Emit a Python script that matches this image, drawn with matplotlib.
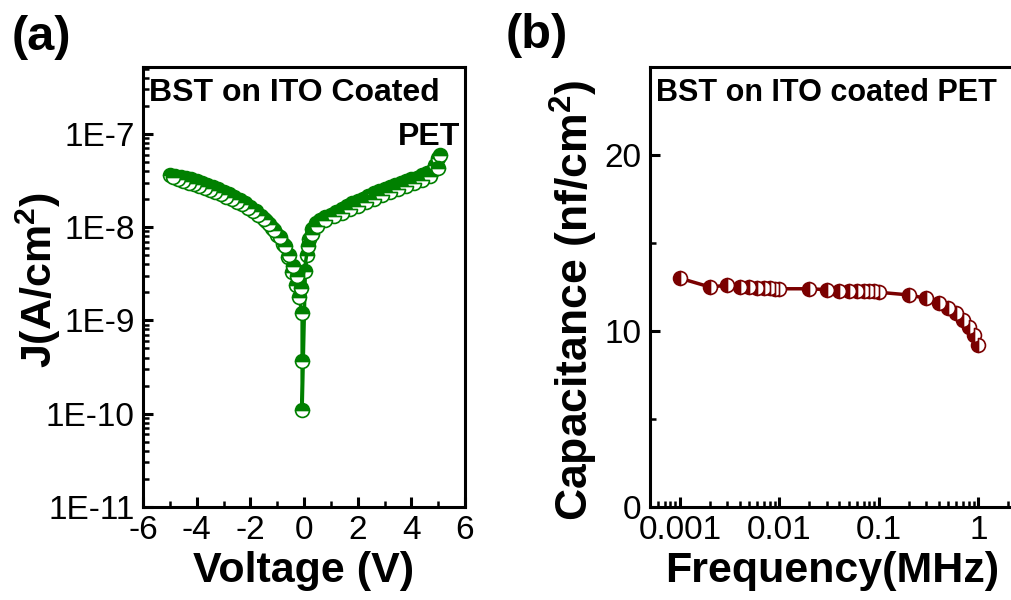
import numpy as np
import matplotlib.pyplot as plt
from matplotlib.ticker import LogLocator, FixedLocator, NullFormatter, FuncFormatter

plt.rcParams['font.family'] = ['Liberation Sans', 'DejaVu Sans']
plt.rcParams['mathtext.fontset'] = 'custom'
plt.rcParams['mathtext.rm'] = 'Liberation Sans'
plt.rcParams['mathtext.bf'] = 'Liberation Sans:bold'
plt.rcParams['axes.unicode_minus'] = False

# (a) J-V data, forward sweep then reverse sweep
v_fwd = [-5.0, -4.8, -4.6, -4.4, -4.2, -4.0, -3.8, -3.6, -3.4, -3.2, -3.0, -2.8, -2.6,
         -2.4, -2.2, -2.0, -1.8, -1.6, -1.4, -1.2, -1.0, -0.8, -0.6, -0.45, -0.3, -0.2,
         -0.07, -0.07, -0.07, 0.05, 0.12, 0.2, 0.3, 0.45, 0.6, 0.8, 1.0, 1.2, 1.4, 1.6,
         1.8, 2.0, 2.2, 2.4, 2.6, 2.8, 3.0, 3.2, 3.4, 3.6, 3.8, 4.0, 4.2, 4.4, 4.6, 4.8,
         4.9, 5.0, 5.05]
j_fwd = [3.6e-8, 3.55e-8, 3.45e-8, 3.35e-8, 3.25e-8, 3.15e-8, 3.0e-8, 2.85e-8, 2.7e-8,
         2.55e-8, 2.4e-8, 2.25e-8, 2.1e-8, 1.95e-8, 1.8e-8, 1.65e-8, 1.5e-8, 1.32e-8,
         1.15e-8, 9.8e-9, 8.2e-9, 6.6e-9, 4.8e-9, 3.3e-9, 2.4e-9, 1.8e-9, 1.2e-9, 3.7e-10,
         1.1e-10, 3.4e-9, 5.0e-9, 7.5e-9, 9.5e-9, 1.1e-8, 1.2e-8, 1.28e-8, 1.35e-8,
         1.45e-8, 1.55e-8, 1.68e-8, 1.8e-8, 1.92e-8, 2.0e-8, 2.15e-8, 2.3e-8, 2.42e-8,
         2.55e-8, 2.7e-8, 2.82e-8, 2.95e-8, 3.1e-8, 3.25e-8, 3.4e-8, 3.6e-8, 3.8e-8,
         4.1e-8, 4.6e-8, 5.5e-8, 6.0e-8]
v_rev = [5.0, 4.7, 4.4, 4.1, 3.8, 3.5, 3.2, 2.9, 2.6, 2.3, 2.0, 1.7, 1.4, 1.1, 0.8, 0.5,
         0.3, 0.15, -0.1, -0.25, -0.4, -0.55, -0.7, -0.9, -1.1, -1.3, -1.5, -1.7, -1.9,
         -2.1, -2.3, -2.5, -2.7, -2.9, -3.1, -3.3, -3.5, -3.7, -3.9, -4.1, -4.3, -4.5,
         -4.7, -4.9]
j_rev = [4.3e-8, 3.55e-8, 3.2e-8, 2.95e-8, 2.75e-8, 2.55e-8, 2.35e-8, 2.2e-8, 2.02e-8,
         1.85e-8, 1.7e-8, 1.55e-8, 1.42e-8, 1.3e-8, 1.18e-8, 1.02e-8, 8.5e-9, 6.2e-9,
         2.2e-9, 3.0e-9, 3.8e-9, 5.0e-9, 6.2e-9, 7.8e-9, 9.2e-9, 1.07e-8, 1.22e-8, 1.35e-8,
         1.5e-8, 1.62e-8, 1.75e-8, 1.88e-8, 2.0e-8, 2.12e-8, 2.25e-8, 2.37e-8, 2.5e-8,
         2.62e-8, 2.75e-8, 2.87e-8, 3.0e-8, 3.15e-8, 3.3e-8, 3.45e-8]

# (b) C-f data
freq = [0.001, 0.002, 0.003, 0.004, 0.005, 0.006, 0.007, 0.008, 0.009, 0.01,
        0.02, 0.03, 0.04, 0.05, 0.06, 0.07, 0.08, 0.09, 0.1,
        0.2, 0.3, 0.4, 0.5, 0.6, 0.7, 0.8, 0.9, 1.0]
cap = [13.0, 12.5, 12.6, 12.5, 12.5, 12.45, 12.45, 12.45, 12.4, 12.4,
       12.4, 12.35, 12.3, 12.3, 12.3, 12.3, 12.25, 12.25, 12.2,
       12.05, 11.85, 11.6, 11.3, 11.0, 10.6, 10.25, 9.8, 9.2]

green = '#008000'
maroon = '#7a0000'

W, H = 1011, 600
fig = plt.figure(figsize=(W / 100, H / 100), dpi=100)
ax1 = fig.add_axes([143 / W, (H - 507) / H, 322 / W, 440 / H])
ax2 = fig.add_axes([650 / W, (H - 507) / H, 380 / W, 440 / H])

mk = dict(marker='o', markersize=10, markeredgewidth=1.2)
ax1.plot(v_fwd, j_fwd, color=green, lw=2.5, fillstyle='top', markerfacecolor=green,
         markerfacecoloralt='white', markeredgecolor=green, **mk)
ax1.plot(v_rev, j_rev, color=green, lw=2.5, fillstyle='top', markerfacecolor=green,
         markerfacecoloralt='white', markeredgecolor=green, **mk)
ax1.set_yscale('log')
ax1.set_xlim(-6, 6)
ax1.set_ylim(1e-11, 5.2e-7)
ax1.set_xticks([-6, -4, -2, 0, 2, 4, 6])
ax1.xaxis.set_minor_locator(FixedLocator([-5, -3, -1, 1, 3, 5]))
ax1.yaxis.set_major_locator(FixedLocator([1e-11, 1e-10, 1e-9, 1e-8, 1e-7]))
ax1.yaxis.set_major_formatter(FuncFormatter(lambda v, p: '1E%d' % round(np.log10(v))))
ax1.yaxis.set_minor_locator(LogLocator(base=10, subs=np.arange(2, 10), numticks=20))
ax1.yaxis.set_minor_formatter(NullFormatter())
ax1.text(0.02, 0.975, 'BST on ITO Coated', transform=ax1.transAxes, fontsize=23,
         fontweight='bold', ha='left', va='top')
ax1.text(0.985, 0.875, 'PET', transform=ax1.transAxes, fontsize=23,
         fontweight='bold', ha='right', va='top')
ax1.set_xlabel('Voltage (V)', fontsize=31, fontweight='bold')

ax2.plot(freq, cap, color=maroon, lw=2.5, fillstyle='left', markerfacecolor=maroon,
         markerfacecoloralt='white', markeredgecolor=maroon, **mk)
ax2.set_xscale('log')
ax2.set_xlim(0.0005, 3.3)
ax2.set_ylim(0, 25)
ax2.set_yticks([0, 10, 20])
ax2.yaxis.set_minor_locator(FixedLocator([5, 15]))
ax2.xaxis.set_major_locator(FixedLocator([0.001, 0.01, 0.1, 1]))
ax2.xaxis.set_major_formatter(FuncFormatter(lambda v, p: '%g' % v))
ax2.xaxis.set_minor_locator(LogLocator(base=10, subs=np.arange(2, 10), numticks=20))
ax2.xaxis.set_minor_formatter(NullFormatter())
ax2.text(0.017, 0.975, 'BST on ITO coated PET', transform=ax2.transAxes, fontsize=22,
         fontweight='bold', ha='left', va='top')
ax2.set_xlabel('Frequency(MHz)', fontsize=31, fontweight='bold')

for ax in (ax1, ax2):
    for s in ax.spines.values():
        s.set_linewidth(2.2)
    ax.tick_params(which='major', direction='in', length=7, width=2.2, labelsize=24,
                   pad=6, top=False, right=False)
    ax.tick_params(which='minor', direction='in', length=4, width=1.8,
                   top=False, right=False)

ax1.xaxis.set_label_coords(0.5, -0.1)
ax1.xaxis.label.set_va('top')
ax2.xaxis.set_label_coords((832 - 650) / 380, -0.1)
ax2.xaxis.label.set_va('top')

fig.text(38 / W, 1 - 280 / H, r'J(A/cm$^\mathbf{2}$)', fontsize=31, fontweight='bold',
         rotation=90, ha='center', va='center')
fig.text(574 / W, 1 - 300 / H, r'Capacitance (nf/cm$^\mathbf{2}$)', fontsize=32,
         fontweight='bold', rotation=90, ha='center', va='center')
fig.text(12 / W, 1 - 38 / H, '(a)', fontsize=35, fontweight='bold', va='center')
fig.text(506 / W, 1 - 36 / H, '(b)', fontsize=35, fontweight='bold', va='center')

fig.savefig('out.png', dpi=100)
